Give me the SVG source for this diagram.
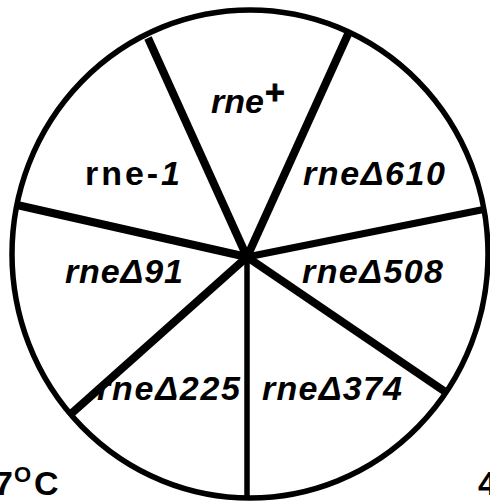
<svg xmlns="http://www.w3.org/2000/svg" width="490" height="502" viewBox="0 0 490 502">
<style>
.lbl{font-family:"Liberation Sans",Arial,sans-serif;font-weight:bold;font-style:italic;font-size:34px;fill:#000}
.up{font-style:normal}
.spoke{stroke:#000;stroke-width:8;fill:none}
.thin{stroke-width:5.5}
</style>
<rect width="490" height="502" fill="#fff"/>
<g id="wheel">
<ellipse cx="250" cy="254" rx="238" ry="244" fill="#fff" stroke="#000" stroke-width="5.5"/>
</g>
<g id="connectors">
<line class="spoke" x1="247" y1="257" x2="148" y2="38"/>
<line class="spoke" x1="247" y1="257" x2="349" y2="32"/>
<line class="spoke" x1="247" y1="257" x2="17" y2="205"/>
<line class="spoke" x1="247" y1="257" x2="486" y2="209" style="stroke-width:7"/>
<line class="spoke" x1="247" y1="257" x2="447" y2="393"/>
<line class="spoke" x1="247" y1="257" x2="72" y2="413"/>
<line class="spoke thin" x1="247" y1="257" x2="247" y2="498"/>
</g>
<g id="n-rneplus"><text class="lbl" x="211" y="113" font-size="35">rne<tspan class="up" font-size="34" dx="1" dy="-9" stroke="#000" stroke-width="0.8">+</tspan></text></g>
<g id="n-rne1"><text class="lbl" x="85" y="185" textLength="95" lengthAdjust="spacing"><tspan class="up">rne-</tspan>1</text></g>
<g id="n-610"><text class="lbl" x="303" y="185" textLength="142" lengthAdjust="spacing">rneΔ610</text></g>
<g id="n-91"><text class="lbl" x="65" y="283" textLength="118" lengthAdjust="spacing">rneΔ91</text></g>
<g id="n-508"><text class="lbl" x="302" y="283" textLength="141" lengthAdjust="spacing">rneΔ508</text></g>
<g id="n-225"><text class="lbl" x="97" y="400" textLength="143" lengthAdjust="spacing">rneΔ225</text></g>
<g id="n-374"><text class="lbl" x="262" y="400" textLength="140" lengthAdjust="spacing">rneΔ374</text></g>
<g id="t-left"><text class="lbl up" x="-6" y="495" font-size="32">7<tspan font-size="22" dy="-13" dx="1">O</tspan><tspan dy="13" dx="3">C</tspan></text></g>
<g id="t-right"><text class="lbl up" x="478" y="495">4</text></g>
</svg>
